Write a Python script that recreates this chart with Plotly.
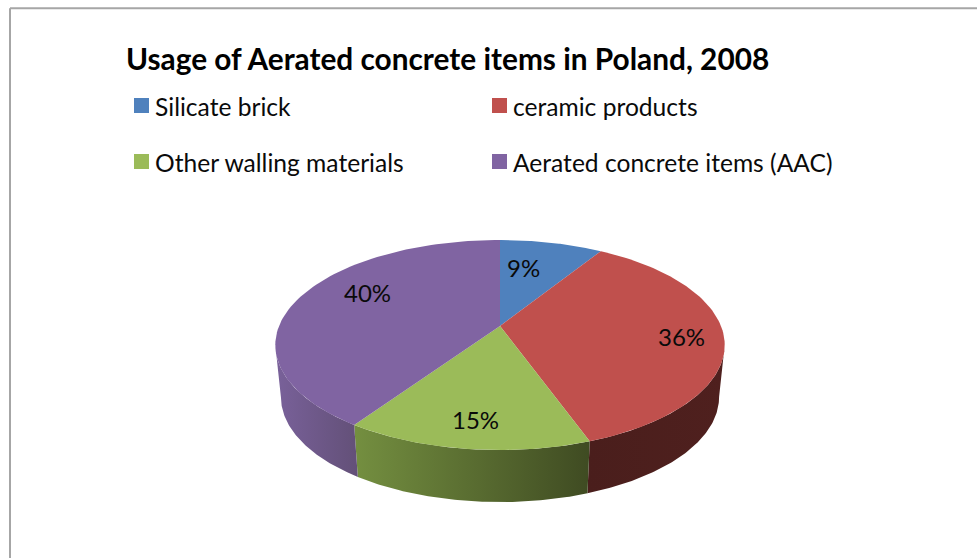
import numpy as np
import plotly.graph_objects as go

title = "Usage of Aerated concrete items in Poland, 2008"
categories = ["Silicate brick", "ceramic products", "Other walling materials", "Aerated concrete items (AAC)"]
shares = [8.8, 35.6, 14.9, 40.4]

top_colors = ["#4F81BD", "#C0504D", "#9BBB59", "#8064A2"]
wall_gradients = [
    ["#2F4D71", "#2F4D71"],
    ["#4A1E1C", "#4F201E"],
    ["#748F40", "#3F4B22"],
    ["#79619A", "#635078"],
]

# Projection of the pie disc: hub sits at the origin, one axis unit is one pixel.
B, A, K, DEPTH, BASE_SCALE = 221.0, 101.6, 0.181, 52.0, 0.975
W, H, HUB_X, HUB_Y = 977, 558, 500, 326


def rim(deg_from, deg_to, n=90):
    t = np.radians(np.linspace(deg_from, deg_to, n))
    d = 1 + K * np.cos(t)
    return B * np.sin(t) / d, A * np.cos(t) / d


def ppx(px):
    return px - HUB_X


def ppy(py):
    return HUB_Y - py


edges = np.cumsum([0] + shares) / sum(shares) * 360
front_from = np.degrees(np.arccos(-K))
front_to = 360 - front_from

fig = go.Figure()

# Side walls
for i in range(len(shares)):
    a, b = max(edges[i], front_from), min(edges[i + 1], front_to)
    if b <= a:
        continue
    x, y = rim(a, b)
    fig.add_trace(go.Scatter(
        x=np.r_[x, x[::-1] * BASE_SCALE, x[0]], y=np.r_[y, y[::-1] - DEPTH, y[0]],
        mode="lines", line=dict(width=0), fill="toself",
        fillgradient=dict(type="horizontal",
                          colorscale=[[0, wall_gradients[i][0]], [1, wall_gradients[i][1]]]),
        hoverinfo="skip", showlegend=False,
    ))

# Top faces
for i in range(len(shares)):
    x, y = rim(edges[i], edges[i + 1])
    fig.add_trace(go.Scatter(
        x=np.r_[0, x, 0], y=np.r_[0, y, 0],
        mode="lines", line=dict(width=0), fill="toself", fillcolor=top_colors[i],
        name=categories[i], hoverinfo="name", showlegend=False,
    ))

# Legend (two columns, two rows)
legend_pos = [(141.5, 105.5), (499.5, 105.5), (141.5, 161.5), (499.5, 161.5)]
for i, (lx, ly) in enumerate(legend_pos):
    fig.add_trace(go.Scatter(
        x=[ppx(lx)], y=[ppy(ly)], mode="markers",
        marker=dict(symbol="square", size=15, color=top_colors[i], line=dict(width=0)),
        hoverinfo="skip", showlegend=False,
    ))
    fig.add_annotation(x=ppx(lx + 11.5), y=ppy(ly + 1), text=categories[i], showarrow=False,
                       xanchor="left", yanchor="middle",
                       font=dict(family="Lato", size=24.6, color="#0a0a0a"))

# Percent labels
label_px = [(523, 267.5), (681, 336.5), (475, 419.5), (367, 292.5)]
for v, (lx, ly) in zip(shares, label_px):
    fig.add_annotation(x=ppx(lx), y=ppy(ly), text=f"{v:.0f}%", showarrow=False,
                       xanchor="center", yanchor="middle",
                       font=dict(family="Lato", size=24, color="#0a0a0a"))

# Title
fig.add_annotation(x=ppx(124), y=ppy(58), text=f"<b>{title}</b>", showarrow=False,
                   xanchor="left", yanchor="middle",
                   font=dict(family="Lato", size=29.8, color="#000000"))

# Chart-area frame
border = dict(color="#A6A6A6", width=2)
fig.add_shape(type="line", x0=ppx(10), x1=ppx(977), y0=ppy(8.3), y1=ppy(8.3), line=border)
fig.add_shape(type="line", x0=ppx(10), x1=ppx(10), y0=ppy(8.3), y1=ppy(558), line=border)

fig.update_layout(
    width=W, height=H, margin=dict(l=0, r=0, t=0, b=0),
    paper_bgcolor="white", plot_bgcolor="white",
    xaxis=dict(range=[ppx(0), ppx(W)], visible=False, fixedrange=True),
    yaxis=dict(range=[ppy(H), ppy(0)], visible=False, fixedrange=True),
)
fig.write_html("out.html", post_script="document.body.style.margin='0';", config={"displayModeBar": False})
